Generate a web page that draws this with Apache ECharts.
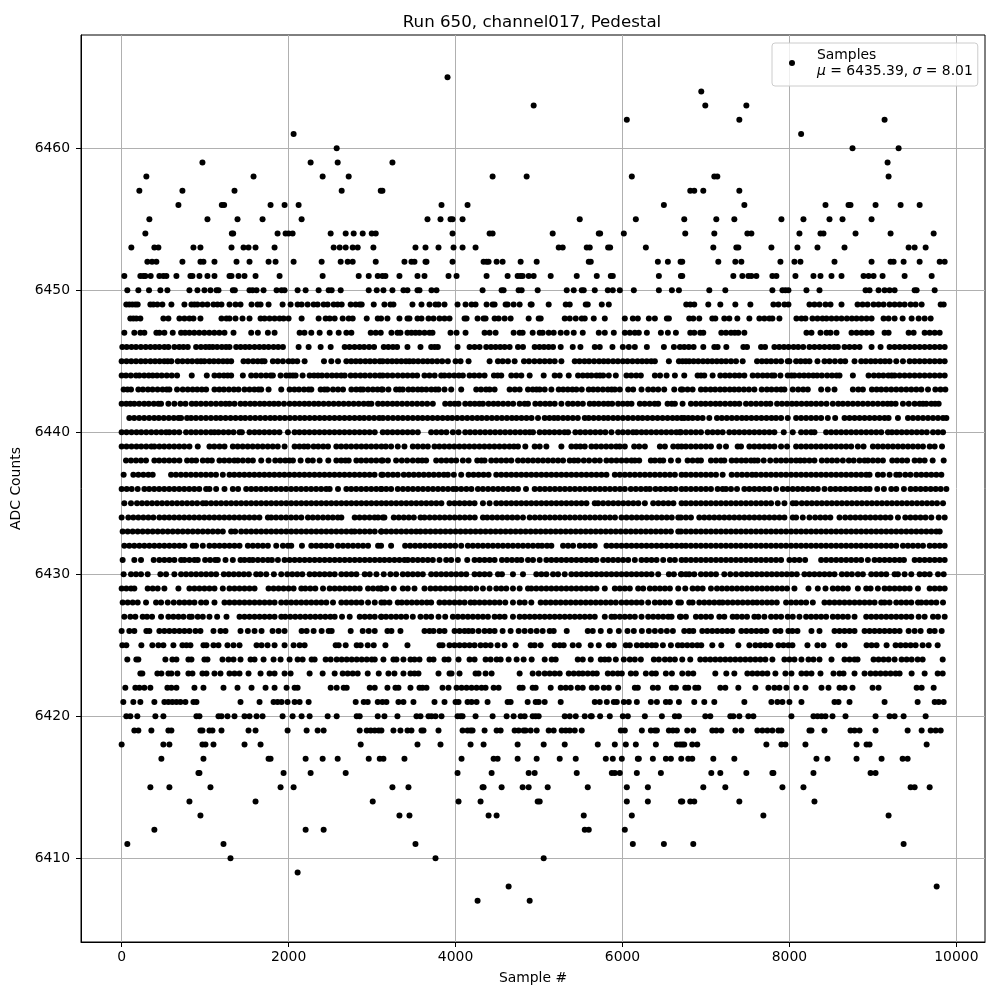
<!DOCTYPE html>
<html><head><meta charset="utf-8">
<style>html,body{margin:0;padding:0;background:#fff}#c{width:1000px;height:1000px}</style>
<script src="https://cdn.jsdelivr.net/npm/echarts@6/dist/echarts.min.js"></script>
</head><body><div id="c"></div>
<script>
const xTicks=[0,2000,4000,6000,8000,10000];
const yTicks=[6410,6420,6430,6440,6450,6460];
const r6465=[3904];
const r6464=[6944];
const r6463=[4936,6992,7484];
const r6462=[6052,7400,9140];
const r6461=[2060,8140];
const r6460=[2576,8756,9308];
const r6459=[968,2264,2588,3244,9176];
const r6458=[296,1580,2408,2720,4444,4852,6112,7100,7136,9188];
const r6457=[212,728,1352,2636,3104,3124,6812,6860,6968,7400];
const r6456=[680,1200,1228,1784,1952,2120,3832,4144,6496,7460,8432,8708,8732,9032,9332,9560];
const r6455=[332,1028,1388,1688,2156,3664,3820,3940,3964,4084,5488,6160,6740,7124,7340,7904,8168,8480,8636,8984];
const r6454=[284,1320,1336,1868,1964,2000,2048,2504,2684,2780,2888,2996,3044,3964,4408,4444,5164,5716,5732,6016,6752,7100,7496,7544,8120,8372,8408,8792,9212,9728];
const r6453=[116,392,440,860,944,1316,1460,1520,1604,1832,2540,2612,2684,2768,2828,3016,3520,3640,3796,3976,4084,4240,5236,5284,5572,5608,5828,5852,6280,7088,7364,7388,7784,8096,8336,8660,9428,9500,9632];
const r6452=[308,364,416,728,944,980,1112,1376,1532,1760,1844,2060,2396,2624,2708,2768,3044,3388,3472,3508,3640,3652,3964,4336,4372,4396,4492,4564,4780,4972,5596,5620,6424,6544,6696,6716,7148,7352,7424,7892,8060,8132,8540,8984,9212,9248,9368,9560,9800,9860];
const r6451=[32,224,260,284,348,452,500,536,656,824,848,932,1028,1112,1292,1316,1400,1472,1604,1892,2408,2840,2960,3068,3124,3160,3328,3544,3628,3916,4012,4372,4624,4744,4780,4804,4876,4936,5140,5452,5692,5860,5884,6436,6700,6716,7328,7436,7508,7544,7604,7796,7844,8072,8288,8372,8504,8624,8888,8948,9008,9116,9380,9704];
const r6450=[68,200,328,464,548,812,908,992,1064,1136,1160,1332,1356,1532,1568,1616,1700,1856,1916,1952,2108,2204,2360,2480,2516,2624,2960,3056,3136,3244,3376,3424,3544,3568,3712,3772,4324,4552,4576,4756,4792,4984,5332,5416,5512,5536,5668,5824,5884,5968,6136,6436,6592,6676,7040,7232,7796,7916,7952,7988,8204,8360,8912,8960,9068,9140,9200,9260,9500,9524,9740];
const r6449=[56,92,128,164,192,344,380,428,488,596,752,836,872,908,968,1028,1100,1148,1196,1292,1364,1424,1556,1628,1664,1760,1928,2024,2108,2156,2228,2300,2348,2420,2468,2540,2588,2636,2744,2804,2852,2876,3020,3148,3220,3256,3484,3592,3688,3760,3796,3868,4024,4120,4192,4240,4372,4444,4468,4600,4624,4696,4768,4900,4912,5116,5320,5368,5560,5584,5752,5836,6764,6812,6860,7028,7172,7352,7532,7808,7868,7940,7988,8240,8300,8360,8432,8492,8624,8816,8876,8936,9008,9068,9128,9200,9260,9320,9380,9452,9512,9584,9812,9848];
const r6448=[104,140,176,224,500,560,692,752,812,860,944,1196,1256,1292,1364,1448,1532,1664,1712,1772,1832,1892,1940,2000,2156,2360,2444,2492,2552,2648,2720,2768,2936,3068,3108,3184,3328,3424,3448,3544,3592,3676,3736,3808,3868,3928,4108,4132,4264,4336,4360,4468,4516,4588,4660,4876,4996,5020,5308,5368,5440,5512,5548,5656,5788,6028,6124,6184,6316,6388,6532,6556,6800,6848,6920,7076,7112,7220,7280,7376,7520,7640,7700,7760,7796,7880,8084,8144,8192,8276,8336,8396,8444,8504,8564,8624,8688,8748,8804,8864,8924,8984,9128,9188,9260,9356,9464,9548,9620,9692];
const r6447=[32,152,224,272,416,452,512,612,712,760,812,870,930,990,1050,1110,1170,1232,1340,1552,1632,1752,1832,2132,2190,2272,2372,2492,2600,2692,2752,2984,3044,3104,3232,3304,3340,3424,3472,3520,3568,3628,3688,3724,3940,4012,4120,4348,4408,4480,4696,4768,4804,4924,5008,5044,5116,5176,5260,5332,5416,5524,5716,5788,5896,6028,6088,6148,6196,6292,6460,6544,6640,6812,6860,6932,6968,7184,7240,7300,7345,7388,7460,8204,8264,8372,8444,8492,8564,8744,8804,8864,8924,8984,9140,9188,9428,9488,9620,9680,9740,9800];
const r6446=[8,60,118,172,230,288,345,400,452,512,560,632,690,740,792,892,950,1005,1050,1092,1144,1200,1250,1292,1372,1425,1480,1532,1592,1650,1705,1760,1820,1875,1932,2120,2240,2384,2504,2672,2730,2790,2850,2905,2965,3024,3140,3195,3250,3300,3424,3580,3708,3750,3788,4024,4168,4228,4288,4368,4425,4480,4535,4588,4648,4748,4808,4948,5005,5060,5115,5168,5260,5404,5496,5668,5728,5880,6004,6076,6148,6292,6496,6616,6688,6740,6795,6852,6968,7100,7140,7244,7448,7492,7660,7708,7820,7878,7935,7990,8050,8105,8165,8240,8300,8360,8420,8480,8535,8580,8660,8720,8780,8840,8984,9092,9200,9260,9320,9380,9440,9500,9560,9620,9680,9740,9800,9860];
const r6445=[0,58,115,172,230,285,345,400,455,510,552,596,672,730,790,845,905,950,992,1052,1105,1160,1215,1265,1312,1460,1515,1575,1630,1680,1712,1812,1870,1932,2000,2050,2104,2192,2424,2512,2592,2692,2750,2805,2860,2920,2975,3032,3092,3128,3185,3240,3295,3350,3405,3448,3496,3552,3610,3665,3720,3780,3840,3908,4000,4060,4156,4408,4508,4565,4628,4708,4820,4880,4945,5008,5068,5128,5188,5268,5428,5485,5545,5600,5660,5720,5775,5828,5888,5945,6005,6060,6120,6180,6235,6290,6345,6388,6556,6676,6720,6760,6800,6852,6908,6965,7020,7075,7130,7185,7240,7300,7360,7440,7612,7670,7725,7780,7840,7900,7980,8000,8080,8135,8190,8240,8336,8420,8480,8545,8612,8668,8780,8860,8915,8975,9030,9090,9145,9200,9280,9360,9440,9500,9560,9620,9680,9740,9800,9860];
const r6444=[0,52,110,172,212,270,325,372,424,480,540,600,664,840,1020,1112,1170,1225,1270,1312,1452,1552,1610,1670,1730,1785,1812,1904,1972,2015,2052,2084,2168,2252,2305,2352,2400,2460,2520,2575,2630,2672,2744,2800,2860,2915,2975,3035,3092,3128,3185,3245,3308,3368,3425,3485,3540,3628,3688,3750,3828,3868,3925,3985,4040,4088,4168,4225,4285,4348,4460,4505,4548,4668,4728,4788,4888,5056,5188,5248,5356,5468,5525,5580,5628,5688,5730,5768,5836,5920,6048,6105,6165,6220,6388,6450,6528,6628,6740,6900,6940,6980,7080,7172,7230,7285,7345,7400,7460,7560,7620,7680,7735,7790,7820,7892,7980,8025,8060,8120,8175,8230,8285,8332,8388,8452,8510,8565,8600,8760,8948,9012,9070,9125,9185,9225,9260,9320,9380,9440,9500,9560,9620,9680,9740,9800,9860];
const r6443=[24,70,112,200,255,315,370,430,490,540,572,664,732,792,850,905,960,1012,1112,1170,1225,1285,1345,1400,1472,1532,1590,1640,1672,1760,1912,2012,2070,2125,2185,2240,2272,2384,2430,2464,2532,2592,2652,2752,2810,2860,2892,2952,3010,3065,3112,3128,3196,3288,3330,3368,3436,3490,3548,3596,3650,3710,3760,3796,3868,3948,4068,4248,4305,4365,4408,4468,4648,4710,4768,4868,4925,4970,5008,5068,5148,5236,5290,5345,5400,5448,5512,5596,5650,5705,5765,5825,5870,5908,5968,6068,6128,6228,6308,6368,6428,6500,6620,6700,6720,6780,6840,6940,6995,7055,7110,7170,7225,7285,7340,7395,7455,7515,7580,7668,7730,7785,7845,7900,7940,8040,8105,8165,8220,8380,8460,8540,8760,8825,8880,8988,9045,9100,9160,9220,9280,9340,9400,9460,9520,9580,9660,9748,9810,9868];
const r6442=[0,55,104,152,210,270,325,385,440,472,560,632,704,765,840,892,950,1010,1070,1130,1190,1245,1292,1352,1424,1480,1540,1595,1655,1710,1770,1825,1880,1945,2012,2072,2130,2190,2245,2305,2360,2420,2480,2540,2600,2660,2720,2780,2840,2900,2955,2992,3072,3128,3185,3245,3300,3360,3420,3480,3540,3600,3660,3728,3876,3935,3990,4036,4116,4175,4230,4285,4328,4396,4455,4510,4570,4630,4690,4768,4828,4868,4956,5015,5075,5130,5188,5268,5348,5405,5465,5525,5608,5660,5715,5775,5828,5876,5948,6005,6060,6108,6208,6265,6325,6385,6428,6540,6590,6628,6720,6820,6880,6940,6995,7055,7115,7170,7230,7290,7345,7400,7480,7540,7600,7660,7720,7772,7852,7910,7970,8030,8085,8145,8205,8260,8320,8380,8444,8520,8585,8640,8700,8760,8820,8880,8940,9000,9060,9120,9175,9220,9272,9360,9430,9500,9560,9600,9640,9700,9745,9788];
const r6441=[92,150,210,270,330,390,445,505,565,625,680,712,784,832,890,950,1010,1070,1130,1185,1245,1305,1365,1425,1480,1540,1600,1660,1720,1780,1835,1895,1955,2015,2075,2135,2192,2252,2312,2372,2430,2490,2550,2610,2670,2730,2790,2850,2905,2965,3025,3085,3130,3190,3250,3310,3368,3428,3488,3548,3605,3665,3725,3785,3845,3905,3960,4020,4080,4140,4200,4260,4315,4375,4435,4495,4555,4615,4675,4730,4790,4850,4910,4988,5068,5125,5180,5228,5288,5345,5405,5465,5548,5596,5655,5715,5775,5828,5888,5945,6005,6065,6125,6185,6240,6300,6360,6420,6480,6540,6600,6655,6708,6740,6788,6840,6900,6960,7040,7132,7190,7250,7310,7370,7430,7485,7545,7605,7665,7725,7785,7840,7900,7980,8080,8140,8200,8260,8320,8380,8460,8548,8660,8720,8780,8840,8900,8960,9020,9080,9140,9188,9300,9420,9480,9540,9600,9660,9720,9780,9840,9880];
const r6440=[0,58,118,178,235,295,355,415,475,532,572,630,690,772,832,890,950,1010,1070,1112,1160,1220,1280,1340,1412,1440,1532,1592,1650,1710,1770,1830,1890,1992,2072,2130,2190,2250,2310,2370,2430,2490,2550,2610,2670,2730,2790,2850,2910,2970,3032,3128,3185,3245,3305,3365,3425,3485,3548,3708,3770,3830,3890,3968,4036,4116,4175,4235,4295,4355,4415,4475,4535,4595,4655,4715,4775,4835,4888,4928,5008,5068,5125,5185,5245,5305,5348,5436,5495,5555,5615,5675,5735,5795,5868,5948,6005,6065,6125,6168,6228,6285,6345,6405,6465,6525,6585,6645,6688,6700,6760,6820,6880,6940,7020,7080,7140,7200,7280,7340,7400,7460,7520,7580,7640,7700,7760,7820,7932,8040,8140,8200,8260,8300,8440,8500,8560,8620,8680,8740,8800,8860,8920,8980,9040,9100,9180,9228,9285,9345,9405,9465,9525,9585,9645,9720,9780,9840];
const r6439=[0,58,118,178,235,295,355,392,452,510,570,630,690,750,812,912,1052,1110,1172,1232,1332,1390,1450,1510,1570,1630,1690,1750,1810,1870,1952,2072,2130,2185,2232,2300,2355,2415,2472,2572,2630,2690,2750,2812,2872,2930,2990,3050,3112,3165,3228,3308,3388,3488,3548,3610,3668,3748,3806,3866,3926,3986,4046,4106,4166,4226,4286,4346,4406,4466,4526,4586,4646,4700,4748,4836,4948,5008,5088,5268,5388,5445,5495,5548,5628,5685,5745,5805,5865,5925,5968,6028,6140,6200,6268,6448,6508,6608,6665,6708,6760,6820,6880,6940,7000,7060,7160,7240,7380,7420,7520,7580,7640,7700,7760,7820,7900,7972,8080,8140,8200,8260,8320,8380,8440,8500,8560,8620,8680,8740,8820,8888,9000,9060,9120,9180,9240,9300,9360,9420,9480,9540,9600,9680,9740,9828];
const r6438=[52,112,172,232,292,392,450,510,570,630,692,784,840,892,972,1030,1080,1172,1230,1290,1350,1392,1452,1515,1572,1672,1760,1840,1900,1960,2010,2052,2144,2232,2290,2372,2476,2572,2630,2680,2720,2812,2870,2930,2990,3050,3112,3128,3190,3288,3356,3420,3488,3550,3600,3648,3768,3830,3890,3950,4008,4088,4156,4260,4310,4348,4428,4488,4548,4608,4668,4748,4808,4868,4928,4988,5048,5108,5168,5228,5288,5368,5420,5468,5536,5600,5668,5728,5808,5868,5928,5988,6048,6108,6148,6200,6340,6388,6448,6488,6580,6668,6780,6840,6900,6940,7060,7120,7180,7220,7308,7365,7425,7480,7540,7580,7620,7692,7770,7840,7900,7960,8020,8080,8130,8180,8240,8300,8388,8450,8510,8570,8640,8712,8770,8840,8900,8940,9000,9060,9120,9232,9290,9350,9410,9500,9560,9620,9716,9848];
const r6437=[24,140,200,260,320,372,592,650,710,770,830,890,950,1010,1070,1130,1212,1292,1350,1410,1470,1530,1590,1650,1710,1770,1830,1890,1950,2010,2070,2130,2190,2250,2310,2370,2430,2490,2550,2610,2670,2730,2790,2850,2910,2970,3030,3112,3128,3190,3250,3308,3380,3440,3500,3560,3620,3680,3740,3800,3860,3908,3980,4068,4156,4216,4276,4336,4396,4488,4548,4608,4668,4728,4788,4848,4908,4968,5028,5088,5148,5208,5268,5328,5388,5448,5508,5568,5628,5688,5748,5808,5908,5968,6028,6088,6148,6208,6268,6328,6388,6448,6508,6568,6628,6708,6760,6820,6880,6940,7000,7060,7120,7200,7308,7372,7432,7492,7552,7600,7660,7720,7780,7840,7900,7960,8020,8080,8140,8200,8260,8320,8380,8440,8500,8560,8620,8680,8740,8800,8860,8920,8960,9060,9120,9200,9280,9320,9388,9450,9520,9580,9640,9700,9760,9820];
const r6436=[0,60,120,192,272,330,390,450,510,570,630,690,750,810,870,930,1012,1052,1132,1232,1332,1395,1492,1552,1610,1670,1730,1790,1850,1910,1970,2030,2090,2150,2210,2270,2330,2390,2450,2492,2592,2692,2750,2810,2870,2930,2990,3050,3112,3108,3170,3228,3308,3370,3430,3490,3550,3610,3670,3730,3790,3850,3910,3970,4008,4068,4130,4190,4268,4328,4390,4450,4510,4570,4630,4690,4748,4844,4948,5010,5070,5130,5190,5250,5310,5370,5430,5490,5550,5610,5670,5730,5790,5850,5910,5970,6028,6100,6160,6220,6280,6328,6396,6456,6516,6576,6636,6708,6760,6820,6880,6940,7000,7060,7140,7200,7240,7300,7372,7460,7520,7580,7640,7700,7760,7840,7920,7980,8040,8100,8160,8220,8280,8340,8420,8492,8552,8612,8672,8732,8792,8852,8912,8960,9052,9132,9220,9280,9372,9452,9512,9572,9632,9692,9752,9812,9880];
const r6435=[32,112,184,244,304,364,424,484,544,604,664,724,784,844,904,972,1012,1072,1132,1192,1252,1312,1372,1432,1492,1552,1612,1672,1732,1792,1852,1912,1972,2032,2092,2152,2212,2272,2332,2392,2452,2512,2572,2632,2692,2752,2812,2872,2932,2992,3052,3112,3170,3230,3290,3350,3410,3470,3530,3590,3650,3710,3770,3830,3928,3988,4048,4108,4168,4228,4328,4408,4488,4548,4608,4668,4728,4788,4848,4908,4968,5028,5088,5148,5208,5268,5328,5388,5448,5508,5568,5668,5708,5768,5830,5890,5950,6010,6070,6130,6190,6268,6368,6430,6490,6550,6610,6708,6760,6820,6880,6940,7000,7060,7120,7180,7240,7300,7360,7420,7480,7540,7600,7660,7720,7780,7860,7940,8040,8080,8148,8208,8268,8328,8388,8448,8508,8568,8628,8688,8748,8808,8868,8928,8988,9048,9108,9168,9228,9288,9348,9408,9468,9528,9588,9648,9708,9768,9840];
const r6434=[0,80,140,200,260,320,380,452,512,570,630,690,750,810,870,930,990,1050,1110,1170,1230,1290,1350,1410,1470,1530,1590,1650,1752,1792,1850,1910,1970,2030,2090,2152,2232,2290,2350,2412,2472,2530,2590,2632,2792,2850,2910,2970,3030,3072,3128,3148,3260,3320,3380,3440,3500,3580,3628,3690,3750,3810,3870,3930,3990,4050,4110,4170,4230,4328,4380,4440,4500,4560,4620,4680,4740,4808,4888,4950,5010,5070,5130,5190,5250,5310,5370,5430,5490,5550,5610,5670,5730,5790,5850,5910,5988,6048,6110,6170,6230,6290,6350,6410,6470,6530,6590,6668,6700,6760,6820,6920,6980,7040,7100,7160,7220,7280,7340,7400,7460,7520,7580,7640,7700,7760,7820,7880,7940,8040,8080,8160,8240,8308,8370,8430,8490,8600,8668,8730,8790,8850,8910,8970,9030,9090,9150,9210,9300,9388,9450,9510,9570,9630,9700,9788,9860];
const r6433=[12,72,132,192,252,312,372,432,492,552,612,672,732,792,852,912,972,1032,1092,1152,1212,1312,1360,1432,1492,1552,1612,1672,1732,1792,1852,1912,1972,2032,2092,2152,2212,2272,2332,2392,2452,2512,2572,2632,2692,2752,2792,2852,2912,2972,3032,3112,3108,3170,3230,3290,3350,3410,3470,3528,3580,3640,3700,3760,3820,3880,3940,4000,4060,4120,4180,4240,4300,4360,4420,4480,4540,4600,4660,4720,4780,4840,4900,4960,5020,5080,5140,5200,5260,5320,5380,5440,5500,5560,5620,5680,5740,5800,5860,5920,5980,6040,6100,6160,6220,6280,6340,6400,6460,6520,6580,6668,6700,6760,6820,6880,6940,7000,7060,7120,7180,7240,7300,7360,7420,7480,7540,7600,7660,7720,7780,7840,7900,7960,8020,8080,8140,8200,8260,8320,8380,8440,8500,8560,8620,8680,8740,8800,8860,8920,8980,9040,9100,9160,9220,9280,9340,9400,9460,9520,9580,9640,9700,9760,9800];
const r6432=[32,92,152,212,272,332,392,452,512,572,632,692,752,852,892,972,1052,1112,1172,1232,1292,1352,1412,1512,1572,1632,1692,1752,1852,1932,1992,2032,2160,2272,2332,2392,2452,2512,2592,2652,2712,2772,2832,2892,2952,3072,3108,3228,3396,3456,3516,3576,3636,3696,3756,3816,3876,3936,3996,4068,4148,4208,4268,4328,4388,4448,4508,4568,4628,4688,4748,4808,4868,4928,4988,5036,5096,5148,5288,5348,5408,5488,5548,5608,5668,5808,5868,5928,5988,6048,6108,6168,6228,6288,6348,6408,6468,6528,6588,6648,6708,6760,6820,6880,6940,7000,7060,7120,7180,7240,7300,7360,7420,7480,7540,7600,7660,7720,7780,7840,7900,7960,8020,8080,8140,8200,8260,8320,8380,8440,8500,8560,8620,8680,8740,8800,8860,8920,8980,9040,9100,9160,9220,9280,9360,9420,9480,9540,9600,9680,9740,9800,9860];
const r6431=[12,152,232,384,452,512,572,632,712,752,812,872,912,1000,1060,1120,1152,1244,1332,1424,1472,1530,1572,1632,1692,1752,1800,1872,1952,2012,2072,2132,2192,2252,2312,2372,2432,2492,2552,2612,2672,2732,2792,2852,2912,2972,3032,3092,3148,3208,3268,3328,3388,3428,3488,3548,3608,3668,3728,3808,3888,3948,4028,4140,4228,4288,4348,4408,4468,4556,4616,4676,4736,4788,4868,4928,5008,5088,5148,5208,5268,5328,5388,5448,5508,5568,5628,5688,5768,5828,5888,5948,6008,6068,6148,6228,6288,6348,6408,6488,6568,6628,6708,6760,6820,6880,6940,7000,7060,7120,7180,7240,7300,7360,7420,7480,7540,7600,7660,7720,7780,7840,7900,8000,8060,8120,8188,8380,8440,8500,8560,8620,8680,8740,8800,8860,8940,9020,9080,9140,9200,9260,9320,9372,9500,9560,9620,9680,9740,9800,9860];
const r6430=[24,112,172,232,312,464,532,632,712,772,832,892,952,1012,1072,1132,1224,1284,1344,1404,1464,1524,1612,1664,1732,1824,1912,1984,2044,2104,2164,2252,2312,2372,2432,2492,2552,2632,2692,2752,2812,2912,2972,3052,3140,3220,3288,3368,3428,3488,3548,3608,3708,3768,3828,3888,3948,4008,4068,4128,4228,4288,4348,4408,4508,4556,4688,4808,4968,5028,5088,5168,5228,5308,5388,5448,5508,5568,5628,5688,5748,5808,5868,5928,5988,6048,6108,6168,6228,6288,6348,6428,6556,6616,6708,6700,6760,6800,6860,6940,7000,7060,7120,7220,7292,7360,7428,7488,7548,7608,7668,7728,7788,7848,7908,7968,8028,8088,8180,8240,8300,8360,8420,8480,8540,8628,8688,8748,8820,8880,8980,9040,9100,9160,9260,9300,9380,9460,9560,9620,9680,9780,9848];
const r6429=[0,56,112,152,312,372,432,512,680,812,872,932,992,1052,1112,1212,1292,1352,1412,1472,1532,1592,1760,1820,1880,1940,2000,2060,2152,2200,2260,2320,2412,2492,2552,2612,2672,2732,2792,2852,2952,3012,3072,3112,3108,3170,3260,3368,3428,3508,3628,3700,3760,3820,3880,3940,4000,4060,4120,4180,4248,4328,4408,4488,4548,4608,4688,4768,4868,4908,4968,5028,5088,5148,5208,5268,5328,5388,5448,5508,5568,5628,5688,5788,5908,5968,6028,6088,6188,6248,6328,6388,6448,6508,6568,6668,6752,6840,6900,6960,7060,7132,7192,7252,7312,7372,7432,7492,7552,7612,7672,7732,7792,7852,7912,7972,8060,8228,8340,8432,8520,8580,8640,8700,8820,8920,8972,9060,9140,9200,9260,9320,9380,9440,9540,9680,9740,9800,9860];
const r6428=[12,72,132,192,292,412,472,552,624,692,752,812,872,952,1012,1112,1232,1292,1352,1412,1472,1532,1592,1652,1712,1772,1832,1912,1972,2032,2092,2152,2212,2272,2332,2392,2452,2532,2632,2692,2752,2812,2872,2952,3032,3112,3148,3208,3308,3356,3416,3476,3536,3596,3656,3708,3808,3868,3928,3988,4048,4108,4180,4228,4288,4348,4408,4468,4528,4596,4688,4768,4828,4908,5020,5080,5140,5200,5260,5320,5380,5440,5500,5560,5620,5680,5740,5800,5860,5920,5988,6048,6108,6168,6228,6308,6388,6448,6508,6568,6668,6700,6800,6840,6920,6980,7040,7100,7160,7200,7260,7320,7380,7440,7500,7560,7612,7672,7732,7788,7848,7960,8020,8080,8140,8200,8280,8420,8480,8540,8600,8660,8720,8780,8840,8900,8960,9020,9100,9140,9200,9280,9340,9400,9460,9540,9580,9640,9700,9760,9840];
const r6427=[32,104,164,252,304,364,472,560,620,680,740,812,840,912,972,1052,1144,1256,1412,1472,1532,1592,1652,1712,1772,1832,1912,1960,2020,2080,2140,2200,2260,2320,2380,2440,2500,2552,2640,2732,2852,2912,2972,3032,3112,3108,3168,3228,3288,3348,3408,3488,3580,3648,3708,3796,3876,3968,4028,4088,4148,4208,4268,4328,4388,4468,4528,4588,4688,4768,4828,4888,4948,5008,5068,5128,5188,5248,5308,5368,5428,5488,5548,5608,5668,5788,5868,5908,5968,6028,6088,6148,6228,6308,6368,6428,6488,6548,6588,6688,6700,6760,6880,6940,7000,7060,7160,7220,7320,7372,7432,7492,7580,7628,7700,7780,7840,7900,7980,8040,8120,8200,8260,8320,8380,8440,8520,8580,8640,8700,8780,8920,8980,9040,9100,9160,9220,9280,9340,9400,9460,9548,9620,9720,9780,9860];
const r6426=[0,92,152,296,332,452,512,572,632,692,752,812,884,944,1100,1184,1244,1424,1512,1592,1676,1808,1880,1952,2156,2216,2300,2396,2480,2516,2744,2888,2960,3032,3184,3232,3340,3628,3688,3736,3808,3868,3988,4048,4108,4156,4204,4276,4348,4408,4468,4564,4660,4756,4828,4900,4972,5044,5128,5176,5332,5584,5644,5740,5848,5956,6060,6136,6232,6316,6388,6460,6532,6604,6740,6800,6848,6956,7016,7076,7136,7196,7256,7316,7424,7484,7544,7604,7664,7724,7832,7892,7988,8036,8096,8264,8360,8540,8600,8660,8720,8780,8900,8960,9020,9080,9140,9200,9260,9320,9428,9500,9572,9680,9740,9824];
const r6425=[8,56,236,368,440,500,620,728,776,824,980,1016,1100,1160,1268,1340,1412,1616,1676,1748,1832,1952,2060,2132,2192,2564,2600,2684,2816,2864,2948,3020,3160,3424,3808,3844,3928,3988,4048,4108,4168,4228,4300,4360,4420,4504,4588,4720,4900,4948,5020,5188,5248,5296,5404,5476,5620,5716,5836,5896,6040,6088,6172,6232,6292,6352,6400,6484,6580,6664,6716,6776,6836,6896,6944,7076,7184,7388,7520,7592,7652,7712,7772,7868,7928,7988,8036,8216,8336,8408,8588,8660,8924,8984,9044,9164,9272,9332,9392,9452,9512,9596,9668,9776];
const r6424=[68,176,200,524,608,656,800,836,992,1028,1208,1280,1340,1424,1544,1592,1700,1820,1904,2012,2108,2168,2276,2312,2444,2504,2576,2636,2696,2756,2816,2876,2936,2996,3032,3136,3256,3292,3376,3460,3508,3568,3688,3736,3868,3916,4036,4168,4228,4360,4420,4492,4540,4636,4732,4816,4912,5068,5152,5200,5464,5524,5620,5740,5788,5836,5920,6016,6088,6148,6220,6376,6436,6508,6568,6628,6716,6812,6932,6992,7052,7112,7172,7232,7292,7352,7412,7472,7532,7592,7652,7712,7796,7940,8000,8060,8144,8228,8288,8360,8504,8660,8720,8780,8816,9008,9068,9128,9188,9260,9344,9404,9464,9536,9596,9836];
const r6423=[224,248,428,476,560,596,668,800,848,968,1016,1112,1184,1292,1352,1412,1520,1664,1772,1832,1952,2024,2252,2408,2552,2648,2708,2768,2828,2948,3080,3196,3268,3376,3460,3508,3556,3796,3928,3952,4048,4240,4276,4360,4432,4768,4924,4996,5068,5128,5188,5248,5356,5416,5476,5524,5584,5644,5692,5824,5884,5944,5992,6100,6160,6280,6352,6400,6520,6592,6716,6788,6848,7112,7244,7340,7496,7556,7616,7676,7736,7832,7952,8024,8144,8204,8264,8372,8528,8600,8648,8780,8900,8972,9032,9092,9152,9212,9272,9320,9464,9620,9776,9836];
const r6422=[44,164,212,272,344,548,596,656,872,980,1220,1388,1556,1724,1832,1976,2072,2108,2504,2576,2660,2696,2972,3032,3184,3280,3316,3460,3568,3604,3652,3844,3916,4012,4072,4132,4192,4252,4312,4360,4456,4516,4768,4804,4924,4960,5140,5260,5320,5380,5464,5524,5632,5692,5776,5836,5948,6148,6184,6364,6424,6592,6640,6752,6788,6872,6908,7172,7232,7388,7592,7748,7820,7880,7964,8084,8192,8384,8468,8600,8660,8756,8996,9068,9524,9584,9728];
const r6421=[20,140,224,392,512,560,608,656,704,764,860,896,1424,1652,1820,1868,1916,1988,2072,2132,2240,2804,2900,2948,3068,3124,3172,3316,3376,3496,3748,3868,4000,4036,4144,4192,4252,4384,4624,4660,4864,4960,4996,5068,5260,5668,5728,5812,5896,5932,6016,6076,6172,6340,6412,6520,6568,6676,6860,6980,7100,7460,7784,7856,7916,8000,8144,8540,8588,8720,9140,9536,9740,9788,9848];
const r6420=[56,104,188,404,500,896,932,1160,1196,1268,1352,1472,1532,1616,1688,1928,2048,2156,2252,2468,2576,2816,2852,3068,3148,3304,3532,3580,3676,3712,3760,3832,4024,4060,4084,4240,4444,4612,4696,4780,4828,4924,4960,4996,5308,5368,5440,5548,5620,5632,5732,5848,6004,6064,6268,6472,6628,6676,6992,7052,7292,7328,7400,7508,7568,8024,8288,8336,8384,8432,8516,8672,9032,9200,9260,9368,9632];
const r6419=[152,200,356,560,596,944,968,1052,1088,1196,1520,1604,1988,2216,2348,2420,2852,2936,2984,3032,3080,3112,3256,3340,3424,3472,3592,3616,3796,4084,4144,4180,4204,4348,4492,4540,4708,4756,4816,4840,4900,4972,5116,5176,5272,5320,5368,5428,5512,5980,6028,6232,6340,6388,6412,6556,6604,6652,6776,6848,7076,7124,7184,7352,7424,7616,7676,7736,7796,7868,7904,8240,8264,8420,8732,8780,8840,9032,9416,9584,9692,9752,9812];
const r6418=[0,500,572,968,1004,1100,1472,1664,2864,3544,3820,4180,4336,4744,5056,5308,5704,5908,6040,6160,6400,6652,6688,6716,6740,6836,6896,7724,7904,7952,8192,8804,8924,8960,9644];
const r6417=[476,980,1760,1784,2204,2408,2588,2960,3092,3136,3388,4072,4456,4504,4744,4972,5248,5440,5800,5884,5992,6184,6196,6364,6520,6580,6704,6788,6836,7088,7340,8324,8456,8804,9104,9356,9416];
const r6416=[920,932,1940,2264,2684,4024,4432,4876,4948,5452,5872,5908,5968,6172,6460,7064,7172,7484,7796,7808,8288,8972,9032];
const r6415=[344,572,1064,1904,2060,3244,3436,4324,4336,4552,4804,4876,5104,5584,6052,6304,6968,7232,7916,8168,9452,9500,9680];
const r6414=[812,1604,3008,4036,4300,4984,5008,6052,6304,6700,6716,6812,6860,7400,8300];
const r6413=[944,3328,3448,4396,4492,5536,6112,7688,9188];
const r6412=[392,2204,2420,5548,5596,6028];
const r6411=[68,1220,3520,6124,6496,6848,9368];
const r6410=[1304,3760,5056];
const r6409=[2108];
const r6408=[4636,9764];
const r6407=[4264,4888];
const levels=[6407,6408,6409,6410,6411,6412,6413,6414,6415,6416,6417,6418,6419,6420,6421,6422,6423,6424,6425,6426,6427,6428,6429,6430,6431,6432,6433,6434,6435,6436,6437,6438,6439,6440,6441,6442,6443,6444,6445,6446,6447,6448,6449,6450,6451,6452,6453,6454,6455,6456,6457,6458,6459,6460,6461,6462,6463,6464,6465];
const rows=[r6407,r6408,r6409,r6410,r6411,r6412,r6413,r6414,r6415,r6416,r6417,r6418,r6419,r6420,r6421,r6422,r6423,r6424,r6425,r6426,r6427,r6428,r6429,r6430,r6431,r6432,r6433,r6434,r6435,r6436,r6437,r6438,r6439,r6440,r6441,r6442,r6443,r6444,r6445,r6446,r6447,r6448,r6449,r6450,r6451,r6452,r6453,r6454,r6455,r6456,r6457,r6458,r6459,r6460,r6461,r6462,r6463,r6464,r6465];
const points=[];
levels.forEach((v,i)=>rows[i].forEach(x=>points.push([x,v])));
const F='"DejaVu Sans"';
const chart=echarts.init(document.getElementById('c'),null,{renderer:'canvas'});
const axisCommon={
  axisLine:{show:true,onZero:false,lineStyle:{color:'#000',width:1}},
  axisTick:{show:true,length:5,lineStyle:{color:'#000',width:1}},
  splitLine:{show:true,lineStyle:{color:'#b0b0b0',width:1}},
  nameTextStyle:{fontFamily:F,fontSize:13.9,color:'#000'}
};
chart.setOption({
  animation:false,
  backgroundColor:'#fff',
  title:{text:'Run 650, channel017, Pedestal',left:527,top:9,textAlign:'center',
    textStyle:{fontFamily:F,fontSize:16.67,fontWeight:'normal',color:'#000'}},
  grid:{left:81,right:15,top:35,bottom:58,show:true,borderColor:'#000',borderWidth:1,backgroundColor:'#fff'},
  legend:{show:true,left:772,top:43,orient:'vertical',icon:'circle',itemWidth:28,itemHeight:6,
    padding:[5,5,8,17],backgroundColor:'rgba(255,255,255,0.8)',borderColor:'#cccccc',borderWidth:1,borderRadius:3,
    selectedMode:false,
    formatter:()=>'{n|Samples}\n{i|μ}{n| = 6435.39, }{i|σ}{n| = 8.01}',
    textStyle:{fontFamily:F,fontSize:13.9,color:'#000',padding:[0,0,0,6],
      rich:{n:{fontFamily:F,fontSize:13.9,color:'#000',lineHeight:16},i:{fontFamily:F,fontSize:13.9,fontStyle:'italic',color:'#000',lineHeight:16}}}},
  xAxis:Object.assign({},axisCommon,{type:'value',min:-487,max:10343,name:'Sample #',nameLocation:'middle',nameGap:29,
    axisTick:Object.assign({},axisCommon.axisTick,{customValues:xTicks}),
    axisLabel:{customValues:xTicks,formatter:v=>String(v),fontFamily:F,fontSize:13.9,color:'#000',margin:8}}),
  yAxis:Object.assign({},axisCommon,{type:'value',min:6404.1,max:6467.97,name:'ADC Counts',nameLocation:'middle',nameGap:40,
    axisTick:Object.assign({},axisCommon.axisTick,{customValues:yTicks}),
    axisLabel:{customValues:yTicks,formatter:v=>String(v),fontFamily:F,fontSize:13.9,color:'#000',margin:11}}),
  series:[{name:'Samples',type:'scatter',data:points,symbol:'circle',symbolSize:6,
    itemStyle:{color:'#000',opacity:1},large:false,silent:true}]
});
</script></body></html>
